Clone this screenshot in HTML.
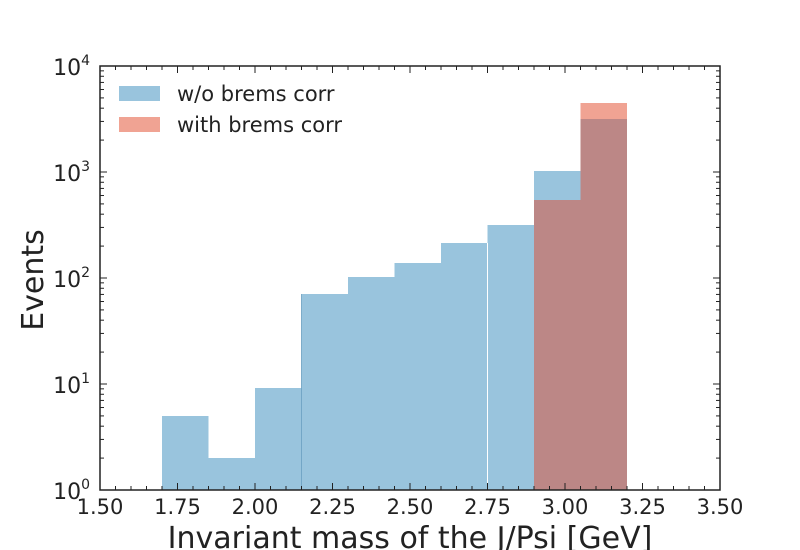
<!DOCTYPE html>
<html><head><meta charset="utf-8"><style>body{margin:0;background:#fff}svg{display:block}text{font-family:"DejaVu Sans","Liberation Sans",sans-serif;fill:#222}</style></head><body>
<svg id="s" width="800" height="550" viewBox="0 0 800 550">
<g stroke="none">
<rect x="162" y="416" width="46.5" height="74" fill="#99c4dd"/>
<rect x="208.5" y="458" width="46.5" height="32" fill="#99c4dd"/>
<rect x="255" y="388" width="46.5" height="102" fill="#99c4dd"/>
<rect x="301.5" y="294" width="46.5" height="196" fill="#99c4dd"/>
<rect x="348" y="277" width="46.5" height="213" fill="#99c4dd"/>
<rect x="394.5" y="263" width="46.5" height="227" fill="#99c4dd"/>
<rect x="441" y="243" width="46.5" height="247" fill="#99c4dd"/>
<rect x="487.5" y="225" width="46.5" height="265" fill="#99c4dd"/>
<rect x="534" y="171" width="46.5" height="29" fill="#99c4dd"/>
<rect x="534" y="200" width="46.5" height="290" fill="#bc8786"/>
<rect x="580.5" y="103" width="46.5" height="16" fill="#f0a393"/>
<rect x="580.5" y="119" width="46.5" height="371" fill="#bc8786"/>
<line x1="301.5" y1="294" x2="301.5" y2="490" stroke="#6a9fc0" stroke-width="0.8"/>
<line x1="487.5" y1="243" x2="487.5" y2="490" stroke="#fff" stroke-width="1"/>
</g>
<g id="ticks" stroke="#222" stroke-width="1"></g>
<rect x="100" y="66" width="620" height="424" fill="none" stroke="#222" stroke-width="1.5"/>
<g font-size="21" text-anchor="middle">
<text x="100" y="514">1.50</text><text x="177.5" y="514">1.75</text><text x="255" y="514">2.00</text><text x="332.5" y="514">2.25</text><text x="410" y="514">2.50</text><text x="487.5" y="514">2.75</text><text x="565" y="514">3.00</text><text x="642.5" y="514">3.25</text><text x="720" y="514">3.50</text>
</g>
<g font-size="22" text-anchor="end">
<text x="90" y="499">10<tspan font-size="14" dy="-10">0</tspan></text>
<text x="90" y="393">10<tspan font-size="14" dy="-10">1</tspan></text>
<text x="90" y="287">10<tspan font-size="14" dy="-10">2</tspan></text>
<text x="90" y="181">10<tspan font-size="14" dy="-10">3</tspan></text>
<text x="90" y="75">10<tspan font-size="14" dy="-10">4</tspan></text>
</g>
<text x="410" y="548" font-size="30" text-anchor="middle">Invariant mass of the J/Psi [GeV]</text>
<text transform="translate(43,280) rotate(-90)" font-size="30" text-anchor="middle">Events</text>
<rect x="119" y="86" width="41" height="15" fill="#99c4dd"/>
<rect x="119" y="117" width="41" height="15" fill="#f0a393"/>
<text x="177" y="101" font-size="21">w/o brems corr</text>
<text x="177" y="132" font-size="21">with brems corr</text>
</svg>
<script>
var g=document.getElementById('ticks'),h='';
function L(a,b,c,d){h+='<line x1="'+a+'" y1="'+b+'" x2="'+c+'" y2="'+d+'"/>';}
for(var i=0;i<=40;i++){var x=100+i*15.5,len=(i%5==0)?7:4;L(x,490,x,490-len);L(x,66,x,66+len);}
for(var d=0;d<4;d++){for(var m=1;m<10;m++){var y=490-106*(d+Math.log10(m)),len=m==1?7:4;L(100,y,100+len,y);L(720,y,720-len,y);}}
g.innerHTML=h;
</script>
</body></html>
